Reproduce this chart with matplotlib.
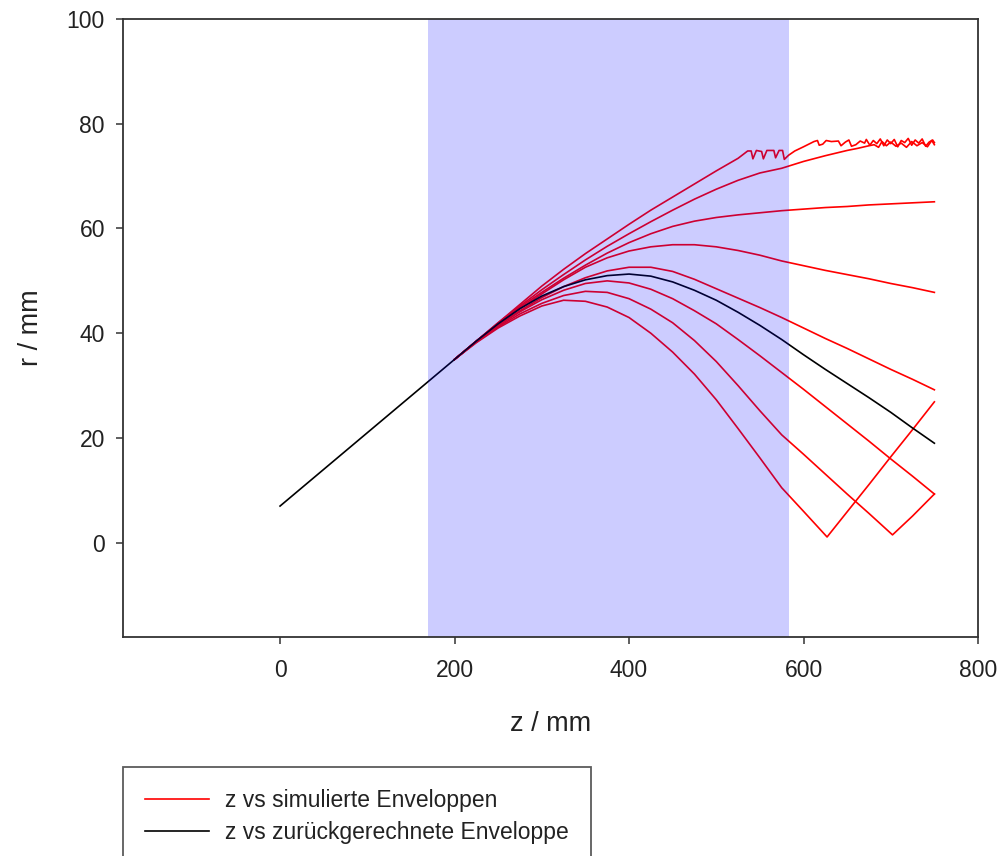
import matplotlib
matplotlib.use("Agg")
import matplotlib.pyplot as plt

# ---------------- data ----------------
z_black = [0, 100, 200, 225, 250, 275, 300, 325, 350, 375, 400, 425, 450, 475, 500,
           525, 550, 575, 600, 625, 650, 675, 700, 725, 750]
r_black = [7, 21, 35, 38.5, 41.8, 44.7, 47.1, 48.9, 50.2, 51.0, 51.3, 50.9, 49.8, 48.2, 46.3,
           44.0, 41.5, 38.8, 35.9, 33.1, 30.4, 27.7, 24.9, 21.9, 19.0]

z_grid = [200, 225, 250, 275, 300, 325, 350, 375, 400, 425, 450, 475, 500, 525, 550,
          575, 600, 625, 650, 675, 700, 725, 750]

# curve A (top, jagged)
z_A = [200, 225, 250, 275, 300, 325, 350, 375, 400, 425, 450, 475, 500, 525, 536,
       540, 542, 546, 552, 554, 558, 566, 568, 572, 576, 578, 583, 590, 600, 612,
       616, 618, 622, 626, 632, 640, 643, 648, 652, 655, 660, 665, 670, 672, 676,
       680, 684, 688, 692, 696, 700, 704, 708, 712, 716, 720, 724, 728, 732, 736,
       740, 744, 748, 750]
r_A = [35, 38.5, 42, 45.5, 49, 52.2, 55.2, 58, 60.8, 63.5, 66, 68.5, 71, 73.4, 74.8,
       74.8, 73.3, 74.9, 74.7, 73.3, 74.9, 74.9, 73.5, 74.9, 74.9, 73.2, 74.0, 74.8, 75.6, 76.6,
       76.8, 75.9, 76.1, 76.8, 76.6, 76.7, 75.8, 76.5, 76.9, 75.7, 76.0, 76.7, 76.3, 77.0, 75.9,
       76.8, 76.2, 77.1, 75.8, 76.9, 76.2, 77.0, 75.6, 76.8, 76.4, 77.2, 75.9, 76.9, 76.3, 77.1,
       75.7, 76.5, 76.9, 76.4]

# curve B
z_B = [200, 225, 250, 275, 300, 325, 350, 375, 400, 425, 450, 475, 500, 525, 550,
       575, 600, 625, 650, 662, 675, 681, 686, 690, 695, 700, 706, 712, 718, 724,
       730, 736, 742, 747, 750]
r_B = [35, 38.5, 42, 45.2, 48.3, 51.2, 54, 56.6, 59, 61.3, 63.5, 65.6, 67.5, 69.2, 70.6,
       71.5, 72.8, 73.9, 74.9, 75.3, 75.8, 76.0, 75.5, 76.6, 75.8, 76.5, 75.7, 76.3, 75.5, 76.6,
       75.8, 76.4, 75.6, 76.8, 76.0]

r_C = [35, 38.5, 41.8, 45, 47.8, 50.5, 53, 55.3, 57.3, 59, 60.4, 61.4, 62.1, 62.6, 63,
       63.4, 63.7, 64, 64.2, 64.5, 64.7, 64.9, 65.1]
r_D = [35, 38.5, 41.7, 44.7, 47.5, 50.2, 52.6, 54.4, 55.7, 56.5, 56.9, 56.9, 56.5, 55.8, 54.9,
       53.8, 52.9, 52.0, 51.2, 50.4, 49.5, 48.7, 47.8]
r_E = [35, 38.4, 41.5, 44.3, 46.8, 48.9, 50.6, 51.9, 52.6, 52.6, 51.8, 50.3, 48.5, 46.7, 44.9,
       43.0, 41.0, 39.0, 37.1, 35.1, 33.1, 31.2, 29.2]
r_F = [35, 38.4, 41.4, 44.1, 46.4, 48.2, 49.5, 50.0, 49.6, 48.4, 46.6, 44.3, 41.8, 38.8, 35.7,
       32.5, 29.3, 26.0, 22.7, 19.4, 16.0, 12.7, 9.3]

z_G = [200, 225, 250, 275, 300, 325, 350, 375, 400, 425, 450, 475, 500, 525, 550,
       575, 600, 625, 650, 675, 702, 725, 750]
r_G = [35, 38.3, 41.2, 43.7, 45.7, 47.2, 48.0, 47.8, 46.6, 44.6, 42.0, 38.6, 34.6, 30.0, 25.2,
       20.6, 16.9, 13.1, 9.3, 5.6, 1.5, 5.1, 9.3]

z_H = [200, 225, 250, 275, 300, 325, 350, 375, 400, 425, 450, 475, 500, 525, 550,
       575, 600, 627, 650, 675, 700, 725, 750]
r_H = [35, 38.2, 41.0, 43.3, 45.2, 46.3, 46.1, 45.0, 43.0, 40.0, 36.4, 32.2, 27.3, 21.8, 16.2,
       10.5, 6.0, 1.1, 5.9, 11.1, 16.4, 21.6, 26.9]

span_z = (170, 583)
x_ticks = [0, 200, 400, 600, 800]
y_ticks = [0, 20, 40, 60, 80, 100]
legend_labels = ["z vs simulierte Enveloppen", "z vs zurückgerechnete Enveloppe"]

# ---------------- plot ----------------
plt.rcParams['font.family'] = ['Liberation Sans', 'DejaVu Sans']
txt_col = '#222222'

fig = plt.figure(figsize=(10.02, 8.56), dpi=100)
ax = fig.add_axes([123 / 1002, 1 - 637 / 856, (978 - 123) / 1002, (637 - 19) / 856])

red_sets = [(z_A, r_A), (z_B, r_B), (z_grid, r_C), (z_grid, r_D), (z_grid, r_E),
            (z_grid, r_F), (z_G, r_G), (z_H, r_H)]
red_handle = None
for zz, rr in red_sets:
    red_handle, = ax.plot(zz, rr, color='#ff0000', lw=1.2, zorder=2)
black_handle, = ax.plot(z_black, r_black, color='black', lw=1.2, zorder=2.1)

ax.axvspan(span_z[0], span_z[1], color=(0, 0, 1), alpha=0.2, lw=0, zorder=2.2)

ax.set_xlim(-180, 800)
ax.set_ylim(-18, 100)
ax.set_xticks(x_ticks)
ax.set_yticks(y_ticks)
ax.tick_params(direction='out', length=5, width=1.1, labelsize=16.5, colors='#333333',
               labelcolor=txt_col)
ax.tick_params(axis='x', pad=11)
ax.tick_params(axis='y', pad=8)
for s in ax.spines.values():
    s.set_linewidth(1.3)
    s.set_color('#333333')

ax.set_xlabel('z / mm', fontsize=19.5, color=txt_col, labelpad=21)
ax.set_ylabel('r / mm', fontsize=19.5, color=txt_col, labelpad=16)

leg = fig.legend([red_handle, black_handle], legend_labels,
                 loc='upper left', bbox_to_anchor=(123 / 1002, 1 - 767 / 856),
                 fontsize=16.5, frameon=True, fancybox=False, shadow=False,
                 borderpad=0.95, handlelength=2.8, handletextpad=0.7,
                 labelspacing=0.4, borderaxespad=0)
leg.get_frame().set_edgecolor('#333333')
leg.get_frame().set_linewidth(1.3)
for t in leg.get_texts():
    t.set_color(txt_col)

fig.savefig('out.png', dpi=100)
